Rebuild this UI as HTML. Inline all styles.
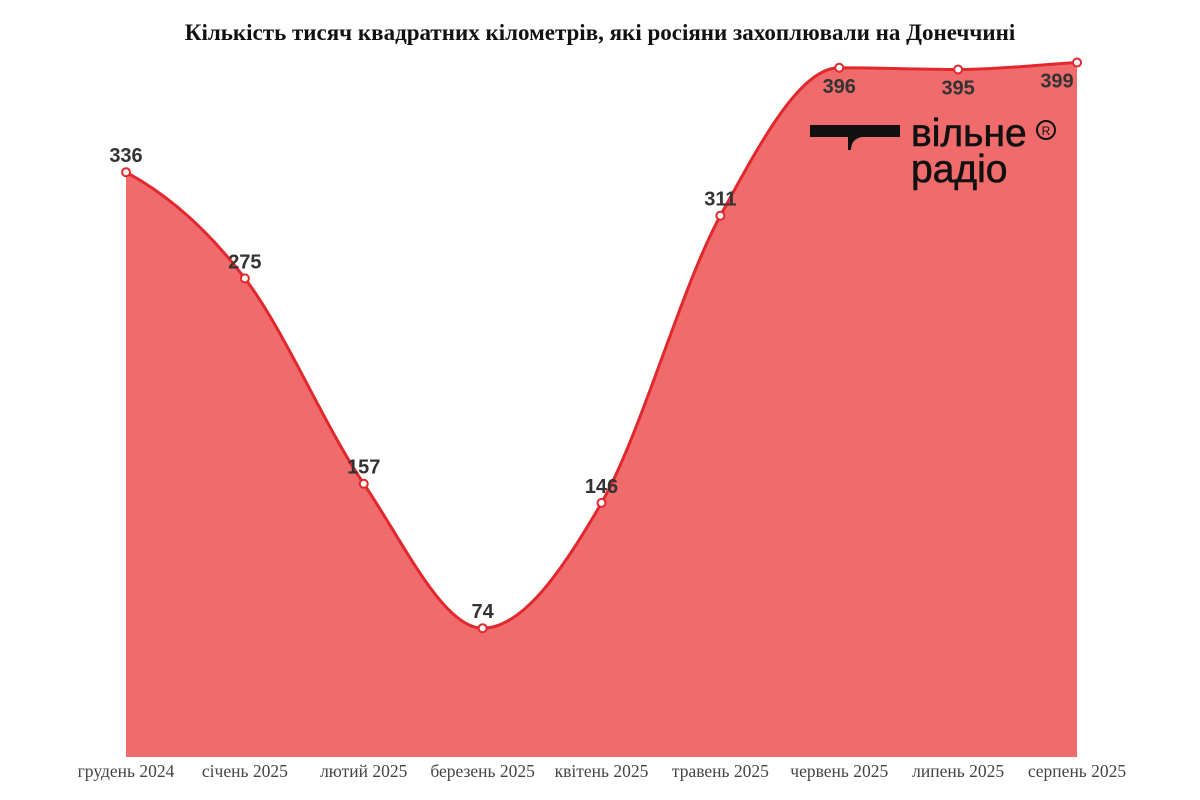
<!DOCTYPE html>
<html><head><meta charset="utf-8"><style>
body{margin:0;background:#fff;}
svg{display:block;font-family:"Liberation Sans",sans-serif;}
</style></head><body>
<svg id="chart" width="1200" height="800">
<text x="600" y="40" text-anchor="middle" font-family="Liberation Serif, serif" font-weight="bold" font-size="23" fill="#111">Кількість тисяч квадратних кілометрів, які росіяни захоплювали на Донеччині</text>
<g id="area"></g>
<g id="labels"></g>
<g>
<path d="M810 125 H900 V137 H862 Q851 139 851 150 H848 V137 H810 Z" fill="#111"/>
<text x="911" y="146" font-size="39" fill="#111" stroke="#111" stroke-width="0.6">вільне</text>
<text x="911" y="182" font-size="39" fill="#111" stroke="#111" stroke-width="0.6">радіо</text>
<circle cx="1046" cy="130" r="9" fill="none" stroke="#111" stroke-width="2"/>
<text x="1046" y="135" font-size="12" text-anchor="middle" fill="#111">R</text>
</g>
</svg>
<script>
const categories=["грудень 2024","січень 2025","лютий 2025","березень 2025","квітень 2025","травень 2025","червень 2025","липень 2025","серпень 2025"];
const values=[336,275,157,74,146,311,396,395,399];
const x0=126,x1=1077,y0=757,k=1.7405;
const xs=i=>x0+i*(x1-x0)/(categories.length-1);
const ys=v=>y0-v*k;
const NS="http://www.w3.org/2000/svg";
const pts=values.map((v,i)=>[xs(i),ys(v)]);
const n=pts.length,d=[],m=[];
for(let i=0;i<n-1;i++)d.push((pts[i+1][1]-pts[i][1])/(pts[i+1][0]-pts[i][0]));
for(let i=0;i<n;i++){
 if(i==0)m.push(d[0]*0.6);else if(i==n-1)m.push(d[n-2]);
 else m.push(d[i-1]*d[i]<=0?0:(d[i-1]+d[i])/2);
}
for(let i=0;i<n-1;i++){if(d[i]==0){m[i]=m[i+1]=0;continue;}const a=m[i]/d[i],b=m[i+1]/d[i],s=a*a+b*b;if(s>9){const t=3/Math.sqrt(s);m[i]=t*a*d[i];m[i+1]=t*b*d[i];}}
let line="M"+pts[0];
for(let i=0;i<n-1;i++){const h=(pts[i+1][0]-pts[i][0])/3;line+=` C${pts[i][0]+h},${pts[i][1]+m[i]*h} ${pts[i+1][0]-h},${pts[i+1][1]-m[i+1]*h} ${pts[i+1][0]},${pts[i+1][1]}`;}
const g=document.getElementById('area');
const a=document.createElementNS(NS,'path');
a.setAttribute('d',line+` L${xs(n-1)},${y0} L${x0},${y0} Z`);a.setAttribute('fill','#f06b6b');


g.appendChild(a);
const l=document.createElementNS(NS,'path');
l.setAttribute('d',line);l.setAttribute('fill','none');l.setAttribute('stroke','#e0282d');l.setAttribute('stroke-width','3');


g.appendChild(l);
const lg=document.getElementById('labels');
values.forEach((v,i)=>{
 const c=document.createElementNS(NS,'circle');
 c.setAttribute('cx',xs(i));c.setAttribute('cy',ys(v));c.setAttribute('r',4);c.setAttribute('fill','#fff');c.setAttribute('stroke','#e0282d');c.setAttribute('stroke-width','2');
 
 
 lg.appendChild(c);
 const t=document.createElementNS(NS,'text');
 const below=ys(v)<100;
 t.setAttribute('x',xs(i)+(i==n-1?-20:0));t.setAttribute('y',ys(v)+(below?25:-10));
 t.setAttribute('text-anchor','middle');t.setAttribute('font-size','20');t.setAttribute('font-weight','bold');t.setAttribute('fill','#333');
 t.textContent=v;
 
 
 lg.appendChild(t);
 const xl=document.createElementNS(NS,'text');
 xl.setAttribute('x',xs(i));xl.setAttribute('y',777);xl.setAttribute('text-anchor','middle');
 xl.setAttribute('font-family','Liberation Serif, serif');xl.setAttribute('font-size','17.5');xl.setAttribute('fill','#444');
 xl.textContent=categories[i];
 
 
 lg.appendChild(xl);
});
</script>
</body></html>
